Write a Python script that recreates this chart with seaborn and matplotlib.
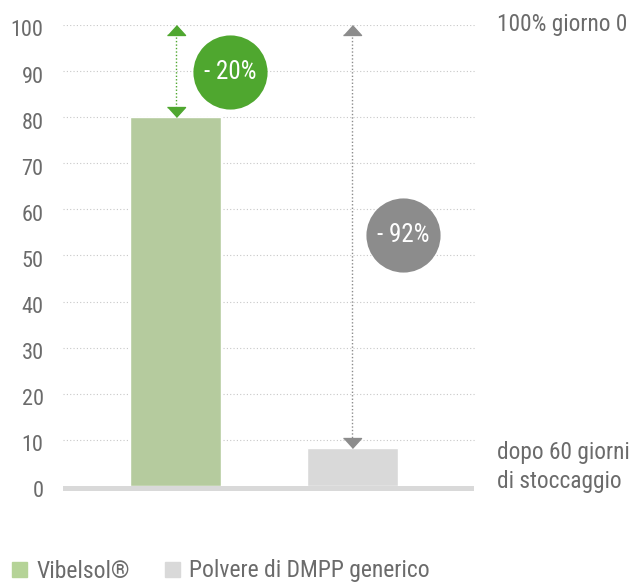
import seaborn as sns
import pandas as pd
from matplotlib import pyplot as plt
from matplotlib.patches import Patch
from matplotlib.transforms import ScaledTranslation

# data
products = ['Vibelsol®', 'Polvere di DMPP generico']
values = [80, 8.2]
start = [100, 100]
badges = ['- 20%', '- 92%']
yticks = [0, 10, 20, 30, 40, 50, 60, 70, 80, 90, 100]

bar_colors = ['#b5d397', '#d9d9d9']
dark_colors = ['#4fa72f', '#8c8c8c']
text_grey = '#6b6b6b'

sns.set_style('white')
plt.rcParams['font.family'] = ['Roboto Condensed', 'Roboto', 'DejaVu Sans']

df = pd.DataFrame({'product': products, 'value': values})

W, H = 633, 584
fig = plt.figure(figsize=(W / 100, H / 100), dpi=100)
ax = fig.add_axes([63 / W, 1 - 486 / H, (475 - 63) / W, (486 - 25) / H])

sns.barplot(data=df, x='product', y='value', hue='product', palette=bar_colors,
            width=0.515, legend=False, ax=ax, zorder=2)

ax.set_xlim(-0.637, 1.695)
ax.set_ylim(0, 100)
ax.set_yticks(yticks)
ax.set_xticks([])
ax.set_xlabel('')
ax.set_ylabel('')
ax.tick_params(axis='y', length=0, pad=14, labelsize=16, labelcolor=text_grey)
# labels sit slightly below their grid line
shift = ScaledTranslation(0, -2.5 / 72, fig.dpi_scale_trans)
for lab in ax.get_yticklabels():
    lab.set_transform(lab.get_transform() + shift)
sns.despine(ax=ax, left=True, bottom=True, top=True, right=True)
for t in yticks[1:]:
    ax.axhline(t, color='#c8c8c8', lw=0.8, ls=(0, (1, 2)), zorder=0)
ax.axhspan(-1.1, 0, xmax=0.998, color='#d9d9d9', lw=0, zorder=1, clip_on=False)

# flat triangle heads
down_tri = [(-1, 0.55), (1, 0.55), (0, -0.55)]
up_tri = [(-1, -0.55), (1, -0.55), (0, 0.55)]

badge_pos = [(0.31, 89.8), (1.29, 54.4)]
for i, (v, s) in enumerate(zip(values, start)):
    c = dark_colors[i]
    ax.plot([i, i], [s - 1, v + 1], color=c, lw=1, ls=(0, (1, 1.5)), zorder=3)
    ax.plot(i, s - 1.1, marker=up_tri, color=c, ms=13, zorder=4, clip_on=False, lw=0)
    ax.plot(i, v + 1.1, marker=down_tri, color=c, ms=13, zorder=4, clip_on=False, lw=0)
    bx, by = badge_pos[i]
    ax.scatter([bx], [by], s=2850, color=c, zorder=5, linewidths=0)
    ax.text(bx, by, badges[i], color='white', fontsize=18, ha='center', va='center', zorder=6)

fig.text(497 / W, 1 - 31.5 / H, '100% giorno 0', color=text_grey, fontsize=16.8, va='baseline')
fig.text(497 / W, 1 - 459 / H, 'dopo 60 giorni', color=text_grey, fontsize=16.8, va='baseline')
fig.text(497 / W, 1 - 488 / H, 'di stoccaggio', color=text_grey, fontsize=16.8, va='baseline')

handles = [Patch(color=c) for c in bar_colors]
fig.legend(handles, products, loc='center left', bbox_to_anchor=(12 / W, 1 - 571 / H), ncol=2,
           frameon=False, fontsize=17, labelcolor=text_grey, handlelength=0.62, handleheight=0.62,
           handletextpad=0.4, columnspacing=1.5, borderaxespad=0, borderpad=0)

fig.savefig('out.png', dpi=100)
